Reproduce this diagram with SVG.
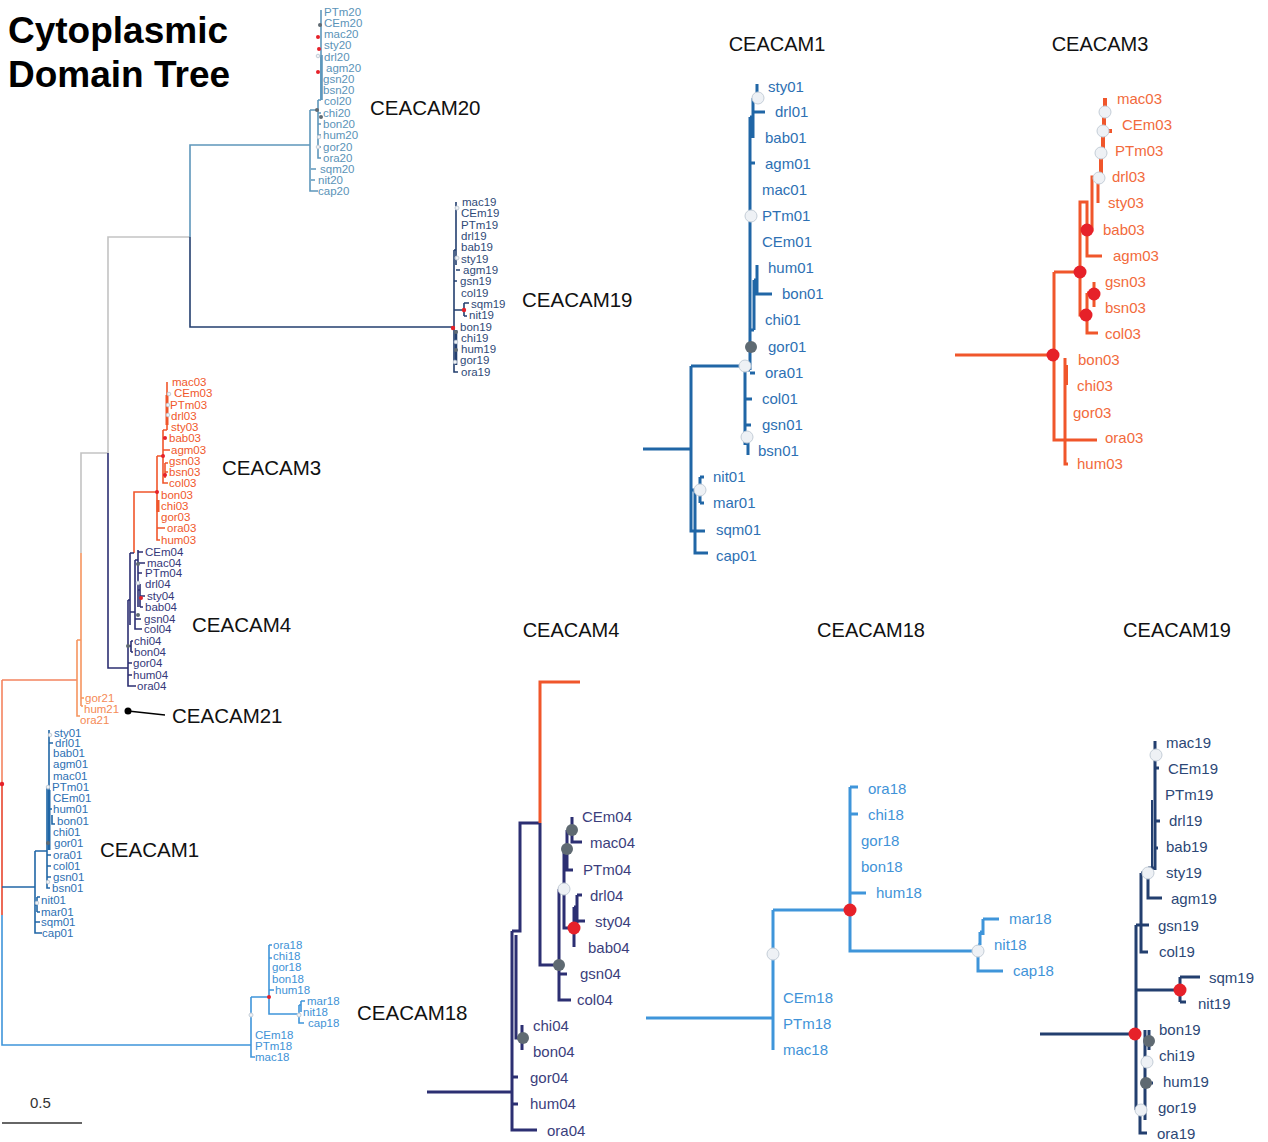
<svg xmlns="http://www.w3.org/2000/svg" width="1268" height="1142" viewBox="0 0 1268 1142">
<style>
text{font-family:"Liberation Sans",Arial,sans-serif}
.title{font-size:37px;font-weight:bold;fill:#000}
.lab{font-size:20.5px;fill:#111}
.sub{font-size:20px;fill:#111;text-anchor:middle}
.m{font-size:11.5px}
.s{font-size:15px}
.b{fill:none;stroke-linecap:butt;stroke-linejoin:miter}
.mt{stroke-width:1.6}
.st{stroke-width:3}
.c20{stroke:#5e97bb}.c19{stroke:#233f6f}.c03{stroke:#f0562b}.c04{stroke:#2c2f72}
.c21{stroke:#f6955f}.c01{stroke:#2066a6}.c18{stroke:#3f95da}.cg{stroke:#c3c3c3}.cr{stroke:#e8452c}
.f20{fill:#5a93b8}.f19{fill:#2f4a78}.f03{fill:#f0582b}.f04{fill:#35387a}.f21{fill:#f58a55}.f01{fill:#2d70b3}.f18{fill:#3e92d6}
.red{fill:#e62129}.gry{fill:#5f6a72}.wht{fill:#eef1f5;stroke:#c5ced8;stroke-width:1}
</style>

<g id="title">
<text class="title" x="8" y="43">Cytoplasmic</text>
<text class="title" x="8" y="87">Domain Tree</text>
</g>

<g id="connectors">
<!-- main tree backbone -->
<path class="b mt" stroke="#f4845f" d="M2,680 V784 M2,680 H77"/>
<path class="b mt cr" d="M2,784 V915"/>
<path class="b mt c18" d="M2,915 V1045 H251"/>
<path class="b mt c01" d="M2,887 H35"/>
<path class="b mt c21" d="M77,640 V716 H80 M77,640 H81 M81,553 V706 M81,698 H84 M81,706 H83"/>
<path class="b mt cg" d="M81,553 V453 H108 M108,453 V237 H190"/>
<path class="b mt c20" d="M190,237 V145 H310"/>
<path class="b mt c19" d="M190,237 V327 H454"/>
<path class="b mt c04" d="M108,453 V668 H128"/>
<!-- CEACAM20 -->
<path class="b mt c20" d="M310,110 V191 H318 M311,169 H316 M311,180 H315 M310,110 H318 M318,100 V158 H321 M318,100 H321 M321,10 V100 M318,113 H321 M318,124 H321 M318,135 H321 M318,147 H321"/>
<path class="b c20" stroke-width="2.6" d="M321.5,55 V100"/>
<!-- CEACAM19 -->
<path class="b mt c19" d="M454,250 V372 H458 M456,202 V265 M454,250 H456 M456,270 H460 M454,281 H457 M454,310 H464 M464,303 V316 M464,303 H469 M464,316 H467"/>
<path class="b c19" stroke-width="2.6" d="M456,330 V365"/>
<!-- CEACAM3 main -->
<path class="b mt c03" d="M134,553 V492 H157 M157,456 V540 H160 M157,528 H165 M157,456 H163 M163,430 V483 H168 M163,450 H170 M163,438 H166 M163,475 H165 M165,463 V478 M165,463 H168 M165,472 H168 M163,430 H167 M167,382 V430"/>
<path class="b c03" stroke-width="3" d="M158,500 V512 M167,395 V425"/>
<!-- CEACAM4 main -->
<path class="b mt c04" d="M128,600 V686 H136 M128,663 H132 M128,675 H132 M128,646 H131 M131,641 V652 M131,641 H133 M131,652 H133 M128,600 H130 M130,553 V625 M130,553 H134 M130,612 H135 M135,560 V629 H142 M135,619 H141 M135,560 H138 M138,550 V607 M138,552 H143 M138,563 H145 M138,573 H142 M140,584 V607 M138,590 H140 M140,596 H145 M140,607 H143"/>
<!-- CEACAM1 main -->
<path class="b mt c01" d="M35,851 V933 H42 M35,851 H47 M37,897 V912 M35,905 H37 M37,897 H40 M37,912 H40 M35,922 H40 M47,787 V888 H50 M47,866 H51 M47,877 H51 M47,855 H51 M49,730 V850 M47,787 H49 M49,743 H53 M52,815 V824 H55 M49,809 H52"/>
<path class="b c01" stroke-width="3" d="M49,790 V850"/>
<!-- CEACAM18 main -->
<path class="b mt c18" d="M251,997 V1057 H255 M251,997 H269 M269,945 V1014 H299 M269,945 H272 M269,958 H272 M269,990 H274 M299,1005 V1023 H304 M299,1005 H301 M301,1001 V1012 M301,1001 H305"/>
<!-- CEACAM21 pointer -->
<path class="b" stroke="#000" stroke-width="1.3" d="M128,711 L165,715"/>

<!-- CEACAM1 subtree -->
<path class="b st c01" d="M643,449 H691 M691,366 V531 H705 M695,490 V553 H708 M691,490 H700 M700,477 V503 M700,477 H704 M700,503 H704 M691,366 H745 M745,366 V445 M745,399 H752 M745,425 H751 M748,432 V455 M745,370 H750 M750,117 V370 M750,373 H755 M757,84 V98 M753,98 V138 M753,112 H765 M750,117 H753 M750,163 H755 M757,265 V294 H772 M754,280 V330 M754,280 H757 M750,330 H754"/>
<!-- CEACAM3 subtree -->
<path class="b st c03" d="M955,355 H1054 M1054,272 V440 H1097 M1054,272 H1080 M1065,358 V464 H1068 M1080,272 V202 H1087 V256 H1102 M1080,272 V315 H1087 M1087,293 V333 H1098 M1087,293 H1094 M1094,282 V307 M1087,230 H1092 V177 H1098 M1098,176 V203"/>
<path class="b c03" stroke-width="4" d="M1105,98 V112 M1104,112 V131 H1112 M1103,131 V153 M1101,153 V178 M1066,365 V385"/>
<!-- CEACAM4 subtree -->
<path class="b st c04" d="M427,1092 H512 M512,931 V1130 H537 M512,1077 H518 M512,1104 H518 M512,931 H520 V823 H540 M516,935 V1038 H522 M522,1025 V1050 M540,823 V965 H559 M559,889 V1000 H571 M559,974 H567 M558,889 H564 M564,889 V849 H567 M567,830 V870 H573 M567,830 H572 M572,817 V842 H582 M564,889 V928 H574 M574,907 V947 M574,907 H577 M577,895 V923 M577,895 H582 M577,921 H585"/>
<path class="b st c03" d="M540,823 V682 H580"/>
<!-- CEACAM18 subtree -->
<path class="b st c18" d="M646,1018 H773 M773,910 V1050 M773,910 H850 M850,787 V951 H978 M850,787 H858 M850,814 H858 M850,893 H866 M978,945 V971 H1003 M978,945 H980 M980,932 V945 M980,932 H983 M983,919 V935 M983,919 H999"/>
<!-- CEACAM19 subtree -->
<path class="b st c19" d="M1040,1034 H1136 M1136,925 V1110 M1136,1110 H1140 M1140,1110 V1133 H1147 M1136,990 H1180 M1180,977 V1002 M1180,977 H1200 M1180,1002 H1186 M1136,925 H1141 M1141,873 V952 H1148 M1141,925 H1149 M1141,873 H1148 M1148,868 V898 H1162 M1148,868 H1155 M1155,741 V870 M1155,768 H1159 M1155,821 H1160 M1155,848 H1158 M1145,1030 V1120 M1136,1110 H1145 M1145,1083 H1153 M1149,1030 V1050"/>
<path class="b c19" stroke-width="2" d="M1152,800 V870"/>
</g>

<g id="support-markers">
<circle class="red" cx="2" cy="784" r="2.2"/>
<circle class="gry" cx="320" cy="25" r="2"/><circle class="red" cx="318" cy="37" r="2"/><circle class="red" cx="319" cy="49" r="2"/><circle class="wht" cx="318" cy="56" r="1.8"/><circle class="red" cx="318" cy="72" r="2"/><circle class="gry" cx="317" cy="110" r="2"/><circle class="gry" cx="321" cy="117" r="2"/><circle class="wht" cx="319" cy="137" r="1.8"/><circle class="wht" cx="318" cy="147" r="1.8"/>
<circle class="wht" cx="457" cy="208" r="2"/><circle class="wht" cx="457" cy="258" r="2"/><circle class="red" cx="464" cy="310" r="2.2"/><circle class="red" cx="453" cy="328" r="2.2"/><circle class="gry" cx="456" cy="332" r="2"/><circle class="wht" cx="456" cy="342" r="1.8"/><circle class="gry" cx="456" cy="350" r="2"/><circle class="wht" cx="455" cy="362" r="1.8"/>
<circle class="wht" cx="169" cy="394" r="1.8"/><circle class="wht" cx="168" cy="405" r="1.8"/><circle class="wht" cx="168" cy="415" r="1.8"/><circle class="red" cx="165" cy="438" r="2"/><circle class="red" cx="163" cy="456" r="2"/><circle class="red" cx="165" cy="475" r="2"/><circle class="red" cx="157" cy="492" r="2"/>
<circle class="gry" cx="138" cy="564" r="2"/><circle class="wht" cx="138" cy="583" r="1.8"/><circle class="red" cx="141" cy="598" r="2"/><circle class="gry" cx="138" cy="615" r="2"/><circle class="gry" cx="128" cy="646" r="2"/>
<circle class="wht" cx="50" cy="735" r="1.8"/><circle class="wht" cx="48" cy="787" r="1.8"/><circle class="gry" cx="48" cy="843" r="2"/><circle class="wht" cx="48" cy="882" r="1.8"/><circle class="wht" cx="37" cy="903" r="1.8"/>
<circle class="red" cx="269" cy="997" r="2"/><circle class="wht" cx="251" cy="1015" r="2"/><circle class="wht" cx="299" cy="1015" r="2"/>
<circle cx="128" cy="711" r="3.5" fill="#000"/>

<circle class="wht" cx="758" cy="98" r="6"/><circle class="wht" cx="751" cy="216" r="6"/><circle class="gry" cx="751" cy="347" r="6"/><circle class="wht" cx="745" cy="366" r="6"/><circle class="wht" cx="747" cy="437" r="6"/><circle class="wht" cx="700" cy="490" r="6"/>
<circle class="wht" cx="1105" cy="112" r="6"/><circle class="wht" cx="1103" cy="131" r="6"/><circle class="wht" cx="1101" cy="153" r="6"/><circle class="wht" cx="1099" cy="178" r="6"/><circle class="red" cx="1087" cy="230" r="6.5"/><circle class="red" cx="1080" cy="272" r="6.5"/><circle class="red" cx="1094" cy="294" r="6.5"/><circle class="red" cx="1086" cy="315" r="6.5"/><circle class="red" cx="1053" cy="355" r="6.5"/>
<circle class="gry" cx="572" cy="830" r="6"/><circle class="gry" cx="567" cy="849" r="6"/><circle class="wht" cx="564" cy="889" r="6"/><circle class="red" cx="574" cy="928" r="6.5"/><circle class="gry" cx="559" cy="965" r="6"/><circle class="gry" cx="523" cy="1038" r="6"/>
<circle class="wht" cx="773" cy="954" r="6"/><circle class="red" cx="850" cy="910" r="6.5"/><circle class="wht" cx="978" cy="951" r="6"/>
<circle class="wht" cx="1156" cy="755" r="6"/><circle class="wht" cx="1148" cy="873" r="6"/><circle class="red" cx="1180" cy="990" r="6.5"/><circle class="red" cx="1135" cy="1034" r="6.5"/><circle class="gry" cx="1149" cy="1041" r="6"/><circle class="wht" cx="1147" cy="1062" r="6"/><circle class="gry" cx="1146" cy="1083" r="6"/><circle class="wht" cx="1141" cy="1110" r="6"/>
</g>

<g id="clade-labels">
<text class="lab" x="370" y="115">CEACAM20</text>
<text class="lab" x="522" y="307">CEACAM19</text>
<text class="lab" x="222" y="475">CEACAM3</text>
<text class="lab" x="192" y="632">CEACAM4</text>
<text class="lab" x="172" y="723">CEACAM21</text>
<text class="lab" x="100" y="857">CEACAM1</text>
<text class="lab" x="357" y="1020">CEACAM18</text>
<text class="sub" x="777" y="51">CEACAM1</text>
<text class="sub" x="1100" y="51">CEACAM3</text>
<text class="sub" x="571" y="637">CEACAM4</text>
<text class="sub" x="871" y="637">CEACAM18</text>
<text class="sub" x="1177" y="637">CEACAM19</text>
</g>

<g id="main-ceacam20" class="m f20">
<text x="324" y="16">PTm20</text><text x="324" y="27">CEm20</text><text x="324" y="38">mac20</text><text x="324" y="49">sty20</text><text x="324" y="61">drl20</text><text x="326" y="72">agm20</text><text x="323" y="83">gsn20</text><text x="323" y="94">bsn20</text><text x="324" y="105">col20</text><text x="323" y="117">chi20</text><text x="323" y="128">bon20</text><text x="323" y="139">hum20</text><text x="323" y="151">gor20</text><text x="323" y="162">ora20</text><text x="320" y="173">sqm20</text><text x="318" y="184">nit20</text><text x="318" y="195">cap20</text>
</g>
<g id="main-ceacam19" class="m f19">
<text x="462" y="206">mac19</text><text x="461" y="217">CEm19</text><text x="461" y="229">PTm19</text><text x="461" y="240">drl19</text><text x="461" y="251">bab19</text><text x="461" y="263">sty19</text><text x="463" y="274">agm19</text><text x="460" y="285">gsn19</text><text x="461" y="297">col19</text><text x="471" y="308">sqm19</text><text x="469" y="319">nit19</text><text x="460" y="331">bon19</text><text x="461" y="342">chi19</text><text x="461" y="353">hum19</text><text x="460" y="364">gor19</text><text x="461" y="376">ora19</text>
</g>
<g id="main-ceacam3" class="m f03">
<text x="172" y="386">mac03</text><text x="174" y="397">CEm03</text><text x="170" y="409">PTm03</text><text x="171" y="420">drl03</text><text x="171" y="431">sty03</text><text x="169" y="442">bab03</text><text x="171" y="454">agm03</text><text x="169" y="465">gsn03</text><text x="169" y="476">bsn03</text><text x="169" y="487">col03</text><text x="161" y="499">bon03</text><text x="161" y="510">chi03</text><text x="161" y="521">gor03</text><text x="167" y="532">ora03</text><text x="161" y="544">hum03</text>
</g>
<g id="main-ceacam4" class="m f04">
<text x="145" y="556">CEm04</text><text x="147" y="567">mac04</text><text x="145" y="577">PTm04</text><text x="145" y="588">drl04</text><text x="147" y="600">sty04</text><text x="145" y="611">bab04</text><text x="144" y="623">gsn04</text><text x="144" y="633">col04</text><text x="134" y="645">chi04</text><text x="134" y="656">bon04</text><text x="133" y="667">gor04</text><text x="133" y="679">hum04</text><text x="137" y="690">ora04</text>
</g>
<g id="main-ceacam21" class="m f21">
<text x="85" y="702">gor21</text><text x="84" y="713">hum21</text><text x="80" y="724">ora21</text>
</g>
<g id="main-ceacam1" class="m f01">
<text x="54" y="737">sty01</text><text x="55" y="747">drl01</text><text x="53" y="757">bab01</text><text x="53" y="768">agm01</text><text x="53" y="780">mac01</text><text x="52" y="791">PTm01</text><text x="53" y="802">CEm01</text><text x="53" y="813">hum01</text><text x="57" y="825">bon01</text><text x="53" y="836">chi01</text><text x="54" y="847">gor01</text><text x="53" y="859">ora01</text><text x="53" y="870">col01</text><text x="53" y="881">gsn01</text><text x="52" y="892">bsn01</text><text x="41" y="904">nit01</text><text x="41" y="916">mar01</text><text x="41" y="926">sqm01</text><text x="42" y="937">cap01</text>
</g>
<g id="main-ceacam18" class="m f18">
<text x="273" y="949">ora18</text><text x="273" y="960">chi18</text><text x="272" y="971">gor18</text><text x="272" y="983">bon18</text><text x="275" y="994">hum18</text><text x="307" y="1005">mar18</text><text x="303" y="1016">nit18</text><text x="308" y="1027">cap18</text><text x="255" y="1039">CEm18</text><text x="255" y="1050">PTm18</text><text x="255" y="1061">mac18</text>
</g>

<g id="sub-ceacam1" class="s f01">
<text x="768" y="92">sty01</text><text x="775" y="117">drl01</text><text x="765" y="143">bab01</text><text x="765" y="169">agm01</text><text x="762" y="195">mac01</text><text x="762" y="221">PTm01</text><text x="762" y="247">CEm01</text><text x="768" y="273">hum01</text><text x="782" y="299">bon01</text><text x="765" y="325">chi01</text><text x="768" y="352">gor01</text><text x="765" y="378">ora01</text><text x="762" y="404">col01</text><text x="762" y="430">gsn01</text><text x="758" y="456">bsn01</text><text x="713" y="482">nit01</text><text x="713" y="508">mar01</text><text x="716" y="535">sqm01</text><text x="716" y="561">cap01</text>
</g>
<g id="sub-ceacam3" class="s" fill="#f26a3c">
<text x="1117" y="104">mac03</text><text x="1122" y="130">CEm03</text><text x="1115" y="156">PTm03</text><text x="1112" y="182">drl03</text><text x="1108" y="208">sty03</text><text x="1103" y="235">bab03</text><text x="1113" y="261">agm03</text><text x="1105" y="287">gsn03</text><text x="1105" y="313">bsn03</text><text x="1105" y="339">col03</text><text x="1078" y="365">bon03</text><text x="1077" y="391">chi03</text><text x="1073" y="418">gor03</text><text x="1105" y="443">ora03</text><text x="1077" y="469">hum03</text>
</g>
<g id="sub-ceacam4" class="s" fill="#3b3e7c">
<text x="582" y="822">CEm04</text><text x="590" y="848">mac04</text><text x="583" y="875">PTm04</text><text x="590" y="901">drl04</text><text x="595" y="927">sty04</text><text x="588" y="953">bab04</text><text x="580" y="979">gsn04</text><text x="577" y="1005">col04</text><text x="533" y="1031">chi04</text><text x="533" y="1057">bon04</text><text x="530" y="1083">gor04</text><text x="530" y="1109">hum04</text><text x="547" y="1136">ora04</text>
</g>
<g id="sub-ceacam18" class="s" fill="#3f93d8">
<text x="868" y="794">ora18</text><text x="868" y="820">chi18</text><text x="861" y="846">gor18</text><text x="861" y="872">bon18</text><text x="876" y="898">hum18</text><text x="1009" y="924">mar18</text><text x="994" y="950">nit18</text><text x="1013" y="976">cap18</text><text x="783" y="1003">CEm18</text><text x="783" y="1029">PTm18</text><text x="783" y="1055">mac18</text>
</g>
<g id="sub-ceacam19" class="s" fill="#2c4776">
<text x="1166" y="748">mac19</text><text x="1168" y="774">CEm19</text><text x="1165" y="800">PTm19</text><text x="1169" y="826">drl19</text><text x="1166" y="852">bab19</text><text x="1166" y="878">sty19</text><text x="1171" y="904">agm19</text><text x="1158" y="931">gsn19</text><text x="1159" y="957">col19</text><text x="1209" y="983">sqm19</text><text x="1198" y="1009">nit19</text><text x="1159" y="1035">bon19</text><text x="1159" y="1061">chi19</text><text x="1163" y="1087">hum19</text><text x="1158" y="1113">gor19</text><text x="1157" y="1139">ora19</text>
</g>

<g id="scale-bar">
<text x="30" y="1108" font-size="15" fill="#333">0.5</text>
<path d="M2,1123 H82" stroke="#333" stroke-width="1.5" fill="none"/>
</g>
</svg>
